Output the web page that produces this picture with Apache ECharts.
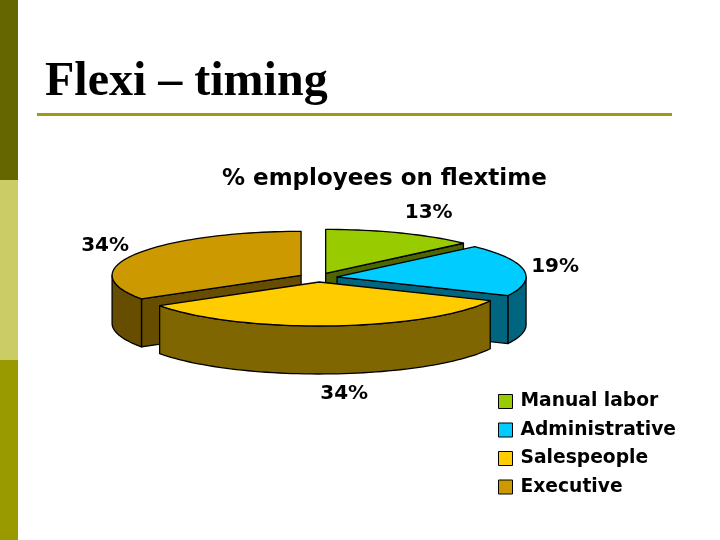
<!DOCTYPE html>
<html>
<head>
<meta charset="utf-8">
<style>html,body{margin:0;padding:0;background:#fff}#c{width:720px;height:540px}</style>
<script src="https://cdn.jsdelivr.net/npm/echarts@6/dist/echarts.min.js"></script>
</head>
<body>
<div id="c"></div>
<script>
const categories = ['Manual labor', 'Administrative', 'Salespeople', 'Executive'];
const percents = [13, 19, 34, 34];

const topColors = ['#99CC00', '#00CCFF', '#FFCC00', '#CC9900'];
const sideColors = ['#4D6600', '#006680', '#806600', '#664D00'];
const paintOrder = [1, 3, 4, 2];
const labelOffsets = [[103, -61], [218, -10], [25, 112], [-196, -30]];

const CX = 318, CY = 277.5, RX = 189, RY = 44, DEPTH = 48, EXPLODE = 19.3;
const total = percents.reduce((a, b) => a + b, 0);
const rad = d => d * Math.PI / 180;

function renderSlice(index, params, api) {
  const startDeg = api.value(0) / total * 360;
  const endDeg = (api.value(0) + api.value(1)) / total * 360;
  const mid = rad((startDeg + endDeg) / 2);
  const ax = CX + EXPLODE * Math.sin(mid);
  const ay = CY - EXPLODE * RY / RX * Math.cos(mid);
  const pt = (deg, drop) => [ax + RX * Math.sin(rad(deg)), ay - RY * Math.cos(rad(deg)) + (drop || 0)];
  const arc = (a, b, drop) => {
    const n = Math.max(2, Math.ceil(Math.abs(b - a) / 2));
    const out = [];
    for (let i = 0; i <= n; i++) out.push(pt(a + (b - a) * i / n, drop));
    return out;
  };
  const border = {stroke: '#000', lineWidth: 1.3, lineJoin: 'round'};
  const side = Object.assign({fill: sideColors[index]}, border);
  const children = [];
  if (Math.sin(rad(startDeg)) < -1e-6) {
    children.push({type: 'polygon', shape: {points: [[ax, ay], pt(startDeg), pt(startDeg, DEPTH), [ax, ay + DEPTH]]}, style: side});
  }
  if (Math.sin(rad(endDeg)) > 1e-6) {
    children.push({type: 'polygon', shape: {points: [[ax, ay], pt(endDeg), pt(endDeg, DEPTH), [ax, ay + DEPTH]]}, style: side});
  }
  const r0 = Math.max(startDeg, 90), r1 = Math.min(endDeg, 270);
  if (r1 > r0) {
    children.push({type: 'polygon', shape: {points: arc(r0, r1, 0).concat(arc(r1, r0, DEPTH))}, style: side});
  }
  children.push({type: 'polygon', shape: {points: [[ax, ay]].concat(arc(startDeg, endDeg, 0))},
    style: Object.assign({fill: topColors[index]}, border)});
  children.push({type: 'text', style: {
    text: api.value(1) + '%',
    x: ax + labelOffsets[index][0], y: ay + labelOffsets[index][1],
    align: 'center', verticalAlign: 'middle',
    font: 'bold 20px "DejaVu Sans"', fill: '#000'
  }});
  return {type: 'group', children};
}

let running = 0;
const series = categories.map((name, i) => {
  const start = running;
  running += percents[i];
  return {
    type: 'custom',
    name,
    coordinateSystem: 'none',
    z: paintOrder[i],
    silent: true,
    animation: false,
    itemStyle: {color: topColors[i]},
    renderItem: (params, api) => renderSlice(i, params, api),
    data: [[start, percents[i]]]
  };
});

const chart = echarts.init(document.getElementById('c'), null, {renderer: 'canvas'});
chart.setOption({
  backgroundColor: '#fff',
  animation: false,
  title: [
    {text: 'Flexi \u2013 timing', left: 40, top: 54,
     textStyle: {fontFamily: 'Liberation Serif', fontWeight: 'bold', fontSize: 48, color: '#000'}},
    {text: '% employees on flextime', left: 217, top: 163,
     textStyle: {fontFamily: 'DejaVu Sans', fontWeight: 'bold', fontSize: 23, color: '#000'}}
  ],
  legend: {
    data: categories, orient: 'vertical', left: 493, top: 385,
    icon: 'rect', itemWidth: 14, itemHeight: 14, itemGap: 5.5,
    selectedMode: false,
    itemStyle: {borderColor: '#000', borderWidth: 1},
    textStyle: {fontFamily: 'DejaVu Sans', fontWeight: 'bold', fontSize: 18.7, lineHeight: 23, color: '#000', padding: [0, 0, 0, 3]}
  },
  graphic: [
    {type: 'rect', shape: {x: 0, y: 0, width: 18, height: 180}, style: {fill: '#666600'}},
    {type: 'rect', shape: {x: 0, y: 180, width: 18, height: 180}, style: {fill: '#CCCC66'}},
    {type: 'rect', shape: {x: 0, y: 360, width: 18, height: 180}, style: {fill: '#999900'}},
    {type: 'rect', shape: {x: 37, y: 113, width: 635, height: 3}, style: {fill: '#A09A10'}}
  ],
  series
});
</script>
</body>
</html>
